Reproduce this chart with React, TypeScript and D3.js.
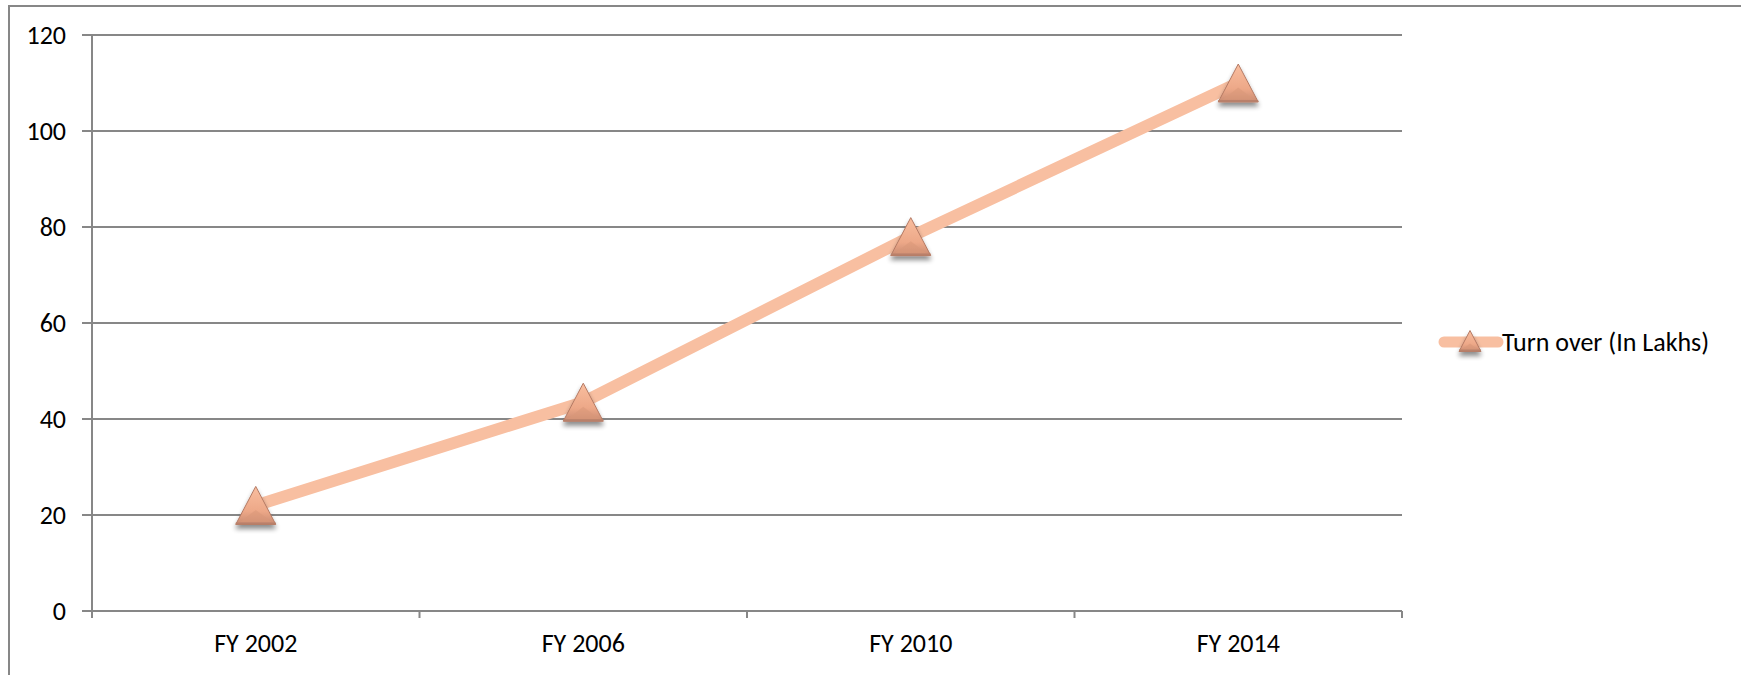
import React, { useEffect, useRef } from 'react';
import * as d3 from 'd3';

// chart data
const categories = ['FY 2002', 'FY 2006', 'FY 2010', 'FY 2014'];
const turnover = [22, 43.5, 78, 110];
const yTicks = [0, 20, 40, 60, 80, 100, 120];
const seriesName = 'Turn over (In Lakhs)';

const W = 1741;
const H = 675;
const FONT = "Carlito, Calibri, 'Open Sans', sans-serif";
const FS = '26px';
const GRAY = '#878787';
const LINE = '#F8BFA1';

const App = () => {
  const ref = useRef<SVGSVGElement>(null);

  useEffect(() => {
    const svg = d3.select(ref.current);
    svg.selectAll('*').remove();

    // plot area
    const margin = { top: 35, left: 92, right: W - 1402, bottom: H - 611 };
    const width = W - margin.left - margin.right;
    const height = H - margin.top - margin.bottom;

    const defs = svg.append('defs');
    const grad = defs.append('linearGradient')
      .attr('id', 'triFill').attr('x1', 0).attr('y1', 0).attr('x2', 0).attr('y2', 1);
    grad.append('stop').attr('offset', '0%').attr('stop-color', '#F9BE9F');
    grad.append('stop').attr('offset', '65%').attr('stop-color', '#EDA888');
    grad.append('stop').attr('offset', '100%').attr('stop-color', '#C98B72');

    const shadow = defs.append('filter').attr('id', 'shadow')
      .attr('x', '-50%').attr('y', '-50%').attr('width', '200%').attr('height', '200%');
    shadow.append('feGaussianBlur').attr('in', 'SourceAlpha').attr('stdDeviation', 2.5).attr('result', 'b');
    shadow.append('feOffset').attr('in', 'b').attr('dy', 4).attr('result', 'o');
    shadow.append('feComponentTransfer').attr('in', 'o').attr('result', 'oa')
      .append('feFuncA').attr('type', 'linear').attr('slope', 0.45);
    const mg = shadow.append('feMerge');
    mg.append('feMergeNode').attr('in', 'oa');
    mg.append('feMergeNode').attr('in', 'SourceGraphic');

    // outer frame (right and bottom edges run off the picture)
    svg.append('path')
      .attr('d', `M9,${H + 5} L9,6 L${W + 5},6`)
      .attr('fill', 'none').attr('stroke', GRAY).attr('stroke-width', 2);

    const g = svg.append('g').attr('transform', `translate(${margin.left},${margin.top})`);

    const x = d3.scaleBand().domain(categories).range([0, width]);
    const y = d3.scaleLinear().domain([0, 120]).range([height, 0]);

    // gridlines + y ticks
    g.selectAll('line.grid').data(yTicks).enter().append('line')
      .attr('x1', -10).attr('x2', width)
      .attr('y1', d => y(d)).attr('y2', d => y(d))
      .attr('stroke', GRAY).attr('stroke-width', 2);

    g.selectAll('text.ylab').data(yTicks).enter().append('text')
      .attr('x', -26).attr('y', d => y(d)).attr('dy', '0.35em')
      .attr('text-anchor', 'end')
      .style('font-family', FONT).style('font-size', FS).attr('fill', '#000')
      .text(d => d);

    // y axis line
    g.append('line').attr('x1', 0).attr('x2', 0).attr('y1', 0).attr('y2', height + 7)
      .attr('stroke', GRAY).attr('stroke-width', 2);

    // x ticks at band edges
    const edges = categories.map(c => x(c) as number).concat([width]);
    g.selectAll('line.xt').data(edges.slice(1)).enter().append('line')
      .attr('x1', d => d).attr('x2', d => d).attr('y1', height).attr('y2', height + 7)
      .attr('stroke', GRAY).attr('stroke-width', 2);

    g.selectAll('text.xlab').data(categories).enter().append('text')
      .attr('x', d => (x(d) as number) + x.bandwidth() / 2)
      .attr('y', height + 32).attr('dy', '0.35em')
      .attr('text-anchor', 'middle')
      .style('font-family', FONT).style('font-size', FS).attr('fill', '#000')
      .text(d => d);

    // series line
    const pts = categories.map((c, i) => [(x(c) as number) + x.bandwidth() / 2, y(turnover[i])] as [number, number]);
    g.append('path').attr('d', d3.line()(pts))
      .attr('fill', 'none').attr('stroke', LINE).attr('stroke-width', 12)
      .attr('stroke-linejoin', 'round');

    const tri = (cx: number, cy: number, w: number, h: number) =>
      `M${cx},${cy - h / 2} L${cx + w / 2},${cy + h / 2} L${cx - w / 2},${cy + h / 2} Z`;

    const drawMarker = (parent: any, cx: number, cy: number, w: number, h: number) => {
      const m = parent.append('g').attr('filter', 'url(#shadow)');
      m.append('path').attr('d', tri(cx, cy, w, h))
        .attr('fill', 'url(#triFill)').attr('stroke', '#B47A64').attr('stroke-width', 1);
      // bevel facet on the lower part
      m.append('path')
        .attr('d', `M${cx},${cy + h * 0.12} L${cx + w * 0.4},${cy + h * 0.44} L${cx - w * 0.4},${cy + h * 0.44} Z`)
        .attr('fill', '#D99879').attr('opacity', 0.55);
      m.append('line')
        .attr('x1', cx - w / 2).attr('x2', cx + w / 2)
        .attr('y1', cy + h / 2 - 1).attr('y2', cy + h / 2 - 1)
        .attr('stroke', '#B9806A').attr('stroke-width', 2);
    };

    pts.forEach(p => drawMarker(g, p[0], p[1], 40, 38));

    // legend
    const lg = svg.append('g').attr('transform', 'translate(1440,342)');
    lg.append('line').attr('x1', 4).attr('x2', 58).attr('y1', 0).attr('y2', 0)
      .attr('stroke', LINE).attr('stroke-width', 11).attr('stroke-linecap', 'round');
    drawMarker(lg, 30, -1, 22, 21);
    lg.append('text').attr('x', 62).attr('y', 0).attr('dy', '0.35em')
      .style('font-family', FONT).style('font-size', FS).attr('fill', '#000')
      .text(seriesName);
  }, []);

  return (
    <svg ref={ref} width={W} height={H}
      style={{ position: 'absolute', left: 0, top: 0, background: '#fff', display: 'block' }} />
  );
};

export default App;
